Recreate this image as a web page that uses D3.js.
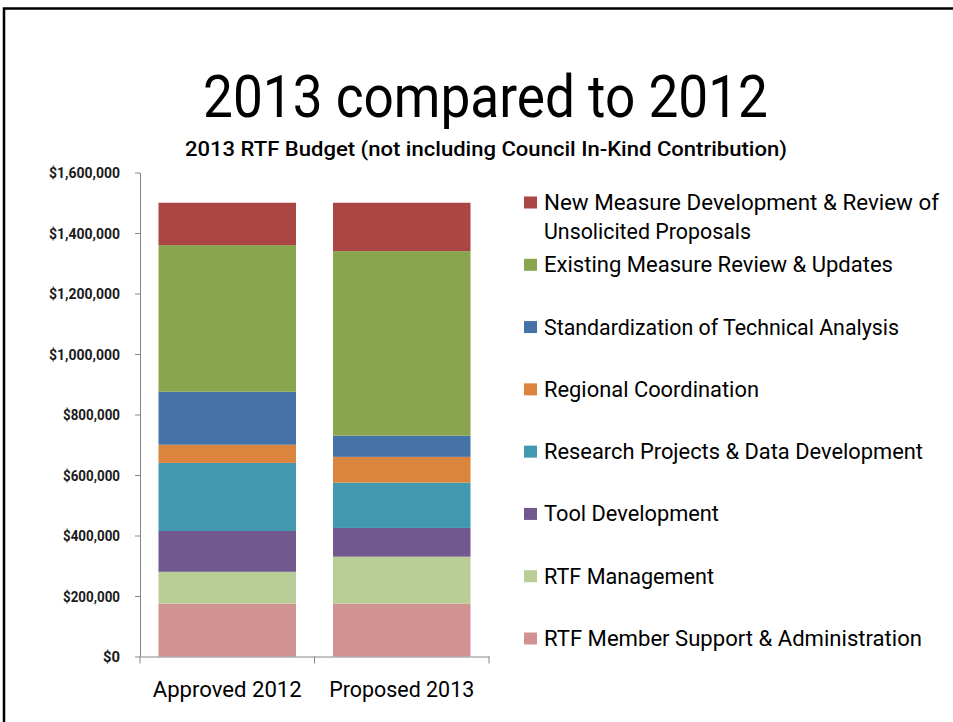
<!DOCTYPE html>
<html>
<head>
<meta charset="utf-8">
<script src="https://cdn.jsdelivr.net/npm/d3@7"></script>
<style>
  body { margin: 0; background: #fff; }
  text { font-family: Roboto, "Liberation Sans", sans-serif; }
</style>
</head>
<body>
<script>
// chart data (bottom of stack first)
var categories = ["Approved 2012", "Proposed 2013"];
var seriesNames = [
    "RTF Member Support & Administration",
    "RTF Management",
    "Tool Development",
    "Research Projects & Data Development",
    "Regional Coordination",
    "Standardization of Technical Analysis",
    "Existing Measure Review & Updates",
    "New Measure Development & Review of Unsolicited Proposals"
];
var approved2012 = [175000, 105000, 135000, 225000, 60000, 175000, 485000, 140000];
var proposed2013 = [175000, 155000, 95000, 150000, 85000, 70000, 610000, 160000];
var seriesColors = ["#D19392", "#B9CD96", "#71588F", "#4198AF", "#DB843D", "#4572A7", "#89A54E", "#AA4643"];
var yTicks = [0, 200000, 400000, 600000, 800000, 1000000, 1200000, 1400000, 1600000];
var titleText = "2013 compared to 2012";
var subtitleText = "2013 RTF Budget (not including Council In-Kind Contribution)";

var width = 953, height = 722;
var margin = { top: 172.5, left: 140, bottom: 65.5, right: 464 };

var svg = d3.select("body")
    .append("svg")
    .attr("width", width)
    .attr("height", height);

// slide frame
svg.append("rect")
    .attr("x", 4).attr("y", 8.5)
    .attr("width", width + 20).attr("height", height + 20)
    .attr("fill", "none")
    .attr("stroke", "#000")
    .attr("stroke-width", 2.5);

// titles
svg.append("text")
    .attr("x", 485.5).attr("y", 117)
    .attr("text-anchor", "middle")
    .attr("font-size", 59)
    .attr("textLength", 565)
    .attr("lengthAdjust", "spacingAndGlyphs")
    .text(titleText);

svg.append("text")
    .attr("x", 486).attr("y", 155.5)
    .attr("text-anchor", "middle")
    .attr("font-size", 20)
    .attr("font-weight", 500)
    .attr("fill", "#000")
    .attr("textLength", 602)
    .attr("lengthAdjust", "spacingAndGlyphs")
    .text(subtitleText);

// stack the two columns
var rows = categories.map(function(c, i) {
    var r = { category: c };
    var vals = i === 0 ? approved2012 : proposed2013;
    seriesNames.forEach(function(s, j) { r[s] = vals[j]; });
    return r;
});
var stacked = d3.stack().keys(seriesNames)(rows);

var x = d3.scaleBand()
    .domain(categories)
    .range([margin.left, width - margin.right])
    .paddingInner(0.212)
    .paddingOuter(0.106);

var y = d3.scaleLinear()
    .domain([0, 1600000])
    .range([height - margin.bottom, margin.top]);

var color = d3.scaleOrdinal().domain(seriesNames).range(seriesColors);

svg.append("g")
    .selectAll("g")
    .data(stacked)
    .enter().append("g")
    .attr("fill", function(d) { return color(d.key); })
    .selectAll("rect")
    .data(function(d) { return d; })
    .enter().append("rect")
    .attr("x", function(d) { return x(d.data.category); })
    .attr("y", function(d) { return y(d[1]); })
    .attr("width", x.bandwidth())
    .attr("height", function(d) { return y(d[0]) - y(d[1]); });

// y axis
var yAxis = svg.append("g")
    .attr("transform", "translate(" + margin.left + ",0)")
    .call(d3.axisLeft(y)
        .tickValues(yTicks)
        .tickSize(5)
        .tickSizeOuter(0)
        .tickPadding(15)
        .tickFormat(function(d) { return "$" + d3.format(",")(d); }));
yAxis.select(".domain").attr("stroke", "#868686");
yAxis.selectAll(".tick line").attr("stroke", "#868686");
yAxis.selectAll(".tick text")
    .attr("font-family", "Roboto, sans-serif")
    .attr("font-size", 14)
    .attr("font-weight", "bold")
    .attr("fill", "#1a1a1a")
    .attr("dy", "0.36em")
    .attr("textLength", function(d) { return d >= 1000000 ? 71 : d > 0 ? 57 : 17; })
    .attr("lengthAdjust", "spacingAndGlyphs");

// x axis (ticks between categories)
var xAxis = svg.append("g")
    .attr("transform", "translate(0," + y(0) + ")")
    .call(d3.axisBottom(x).tickSize(0).tickSizeOuter(0).tickPadding(25));
xAxis.select(".domain").attr("stroke", "#868686");
xAxis.selectAll(".tick text")
    .attr("font-family", "Roboto, sans-serif")
    .attr("font-size", 22)
    .attr("fill", "#000")
    .attr("textLength", function(d, i) { return i === 0 ? 149 : 145; })
    .attr("lengthAdjust", "spacingAndGlyphs");
var sep = [x.range()[0], x(categories[1]) - x.step() * x.paddingInner() / 2, x.range()[1]];
xAxis.selectAll(".sep")
    .data(sep)
    .enter().append("line")
    .attr("x1", function(d) { return d; })
    .attr("x2", function(d) { return d; })
    .attr("y1", 0).attr("y2", 7)
    .attr("stroke", "#868686");

// legend, top entry first
var legendOrder = seriesNames.slice().reverse();
var legendLines = {
    "New Measure Development & Review of Unsolicited Proposals": ["New Measure Development & Review of", "Unsolicited Proposals"]
};
var legendWidths = [395, 349, 355, 215, 379, 175, 170, 378];
var ly = d3.scalePoint().domain(legendOrder).range([202.5, 638.5]);

var legend = svg.append("g").attr("class", "legend");
var item = legend.selectAll("g")
    .data(legendOrder)
    .enter().append("g")
    .attr("transform", function(d) { return "translate(524," + ly(d) + ")"; });

item.append("rect")
    .attr("x", 0).attr("y", -6)
    .attr("width", 13).attr("height", 12)
    .attr("fill", function(d) { return color(d); });

item.append("text")
    .attr("x", 20)
    .attr("y", 7.5)
    .attr("font-size", 22)
    .attr("fill", "#000")
    .attr("textLength", function(d, i) { return legendWidths[i]; })
    .attr("lengthAdjust", "spacingAndGlyphs")
    .text(function(d) { return legendLines[d] ? legendLines[d][0] : d; });

item.filter(function(d) { return legendLines[d]; })
    .append("text")
    .attr("x", 20)
    .attr("y", 36)
    .attr("font-size", 22)
    .attr("fill", "#000")
    .attr("textLength", 207)
    .attr("lengthAdjust", "spacingAndGlyphs")
    .text(function(d) { return legendLines[d][1]; });
</script>
</body>
</html>
